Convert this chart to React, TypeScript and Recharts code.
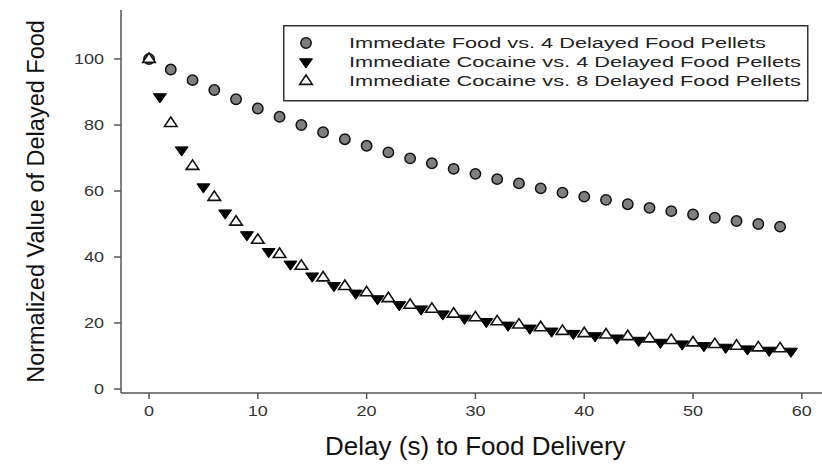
import React from 'react';
import { ScatterChart, Scatter, XAxis, YAxis, Legend, Label } from 'recharts';

const foodX = [0, 2, 4, 6, 8, 10, 12, 14, 16, 18, 20, 22, 24, 26, 28, 30, 32, 34, 36, 38, 40, 42, 44, 46, 48, 50, 52, 54, 56, 58];
const foodValues = [100, 96.8, 93.6, 90.6, 87.8, 85.0, 82.5, 80.0, 77.8, 75.7, 73.7, 71.7, 69.9, 68.4, 66.7, 65.2, 63.6, 62.3, 60.8, 59.5, 58.3, 57.3, 56.0, 54.9, 53.9, 52.9, 51.9, 50.9, 50.0, 49.2];

const coc4X = [1, 3, 5, 7, 9, 11, 13, 15, 17, 19, 21, 23, 25, 27, 29, 31, 33, 35, 37, 39, 41, 43, 45, 47, 49, 51, 53, 55, 57, 59];
const coc4Values = [88.5, 72.4, 61.2, 53.3, 46.7, 41.6, 37.8, 34.2, 31.3, 29.0, 27.3, 25.5, 24.2, 22.7, 21.4, 20.4, 19.3, 18.4, 17.5, 16.8, 16.1, 15.4, 14.7, 14.1, 13.6, 13.1, 12.6, 12.1, 11.7, 11.4];

const coc8X = [0, 2, 4, 6, 8, 10, 12, 14, 16, 18, 20, 22, 24, 26, 28, 30, 32, 34, 36, 38, 40, 42, 44, 46, 48, 50, 52, 54, 56, 58];
const coc8Values = [100, 80.6, 67.6, 58.2, 50.7, 45.2, 40.9, 37.3, 33.8, 31.2, 29.3, 27.5, 25.5, 24.3, 22.8, 21.7, 20.5, 19.5, 18.7, 17.6, 16.9, 16.5, 16.0, 15.3, 14.8, 14.1, 13.6, 13.1, 12.6, 12.3];

const xTicks = [0, 10, 20, 30, 40, 50, 60];
const yTicks = [0, 20, 40, 60, 80, 100];

const seriesNames = [
  'Immedate Food vs. 4 Delayed Food Pellets',
  'Immediate Cocaine vs. 4 Delayed Food Pellets',
  'Immediate Cocaine vs. 8 Delayed Food Pellets',
];

const xTitle = 'Delay (s) to Food Delivery';
const yTitle = 'Normalized Value of Delayed Food';

const toPoints = (xs: number[], ys: number[]) => xs.map((x, i) => ({ x, y: ys[i] }));
const foodData = toPoints(foodX, foodValues);
const coc4Data = toPoints(coc4X, coc4Values);
const coc8Data = toPoints(coc8X, coc8Values);

const FONT = '"Liberation Sans", Arial, Helvetica, sans-serif';
const AXIS = '#555';

const CircleMark = (props: any) => {
  const { cx, cy } = props;
  if (cx == null || cy == null) return <g />;
  return <circle cx={cx} cy={cy} r={5.2} fill="#7f7f7f" stroke="#111" strokeWidth={1.5} />;
};

const DownTri = (props: any) => {
  const { cx, cy } = props;
  if (cx == null || cy == null) return <g />;
  const pts = `${cx - 6.5},${cy - 3.2} ${cx + 6.5},${cy - 3.2} ${cx},${cy + 6}`;
  return <polygon points={pts} fill="#000" stroke="#000" strokeWidth={1} strokeLinejoin="miter" />;
};

const UpTri = (props: any) => {
  const { cx, cy } = props;
  if (cx == null || cy == null) return <g />;
  const pts = `${cx},${cy - 6} ${cx - 6.3},${cy + 3.4} ${cx + 6.3},${cy + 3.4}`;
  return <polygon points={pts} fill="#fff" stroke="#111" strokeWidth={1.6} strokeLinejoin="miter" />;
};

const YTick = (props: any) => {
  const { x, y, payload } = props;
  return (
    <g transform={`translate(${x},${y})`}>
      <text transform="scale(1.2,1)" textAnchor="end" dy="0.36em" fontSize={15} fill="#333" fontFamily={FONT}>
        {payload.value}
      </text>
    </g>
  );
};

const XTick = (props: any) => {
  const { x, y, payload } = props;
  return (
    <g transform={`translate(${x},${y})`}>
      <text transform="scale(1.2,1)" textAnchor="middle" dy="0.71em" fontSize={15} fill="#333" fontFamily={FONT}>
        {payload.value}
      </text>
    </g>
  );
};

const YTitle = (props: any) => {
  const vb = props.viewBox || { x: 0, y: 10, width: 121, height: 383 };
  const cx = vb.x + 36;
  const cy = vb.y + vb.height / 2;
  return (
    <text transform={`translate(${cx},${cy}) rotate(-90)`} textAnchor="middle" dy="0.36em" fontSize={23.5} fill="#111" fontFamily={FONT}>
      {yTitle}
    </text>
  );
};

const XTitle = (props: any) => {
  const vb = props.viewBox || { x: 121, y: 393, width: 702, height: 71 };
  const cx = vb.x + vb.width / 2 + 3;
  const by = vb.y + 62;
  return (
    <text transform={`translate(${cx},${by}) scale(1.04,1)`} textAnchor="middle" fontSize={25} fill="#111" fontFamily={FONT}>
      {xTitle}
    </text>
  );
};

const LegendBox = () => {
  const rows = [18, 37, 56];
  const marks = [CircleMark, DownTri, UpTri];
  return (
    <svg width={526} height={78} style={{ display: 'block', overflow: 'visible' }}>
      <rect x={0.75} y={0.75} width={524} height={75} fill="#fff" stroke="#333" strokeWidth={1.5} />
      {seriesNames.map((name, i) => {
        const M = marks[i];
        return (
          <g key={name}>
            <M cx={23} cy={rows[i]} />
            <text transform={`translate(66,${rows[i]}) scale(1.45,1)`} dy="0.36em" fontSize={15} fill="#222" fontFamily={FONT}>
              {name}
            </text>
          </g>
        );
      })}
    </svg>
  );
};

export default function App() {
  return (
    <div style={{ position: 'absolute', left: 0, top: 0, width: 822, height: 464, overflow: 'hidden', background: '#fff' }}>
      <ScatterChart width={830} height={464} margin={{ top: 10, right: 6.4, bottom: 0, left: 0 }}>
        <XAxis
          xAxisId={0}
          type="number"
          dataKey="x"
          domain={[-2.574, 62]}
          ticks={xTicks}
          allowDataOverflow
          height={71}
          stroke={AXIS}
          strokeWidth={1.5}
          tickSize={6}
          tickMargin={6}
          tick={<XTick />}
          tickLine={{ stroke: AXIS, strokeWidth: 1.5 }}
        >
          <Label content={<XTitle />} />
        </XAxis>
        <XAxis
          xAxisId="top"
          orientation="top"
          type="number"
          dataKey="x"
          domain={[-2.574, 62]}
          allowDataOverflow
          height={0}
          tick={false}
          tickLine={false}
          stroke={AXIS}
          strokeWidth={1.5}
        />
        <YAxis
          type="number"
          dataKey="y"
          domain={[-1.21, 114.85]}
          ticks={yTicks}
          allowDataOverflow
          width={121}
          stroke={AXIS}
          strokeWidth={1.5}
          tickSize={7}
          tickMargin={10}
          tick={<YTick />}
          tickLine={{ stroke: AXIS, strokeWidth: 1.5 }}
        >
          <Label content={<YTitle />} />
        </YAxis>
        <Legend
          layout="vertical"
          align="center"
          verticalAlign="middle"
          content={<LegendBox />}
          wrapperStyle={{ left: 283, top: 25, width: 526, height: 78 }}
        />
        <Scatter name={seriesNames[0]} data={foodData} xAxisId={0} shape={<CircleMark />} isAnimationActive={false} />
        <Scatter name={seriesNames[1]} data={coc4Data} xAxisId={0} shape={<DownTri />} isAnimationActive={false} />
        <Scatter name={seriesNames[2]} data={coc8Data} xAxisId={0} shape={<UpTri />} isAnimationActive={false} />
      </ScatterChart>
    </div>
  );
}
